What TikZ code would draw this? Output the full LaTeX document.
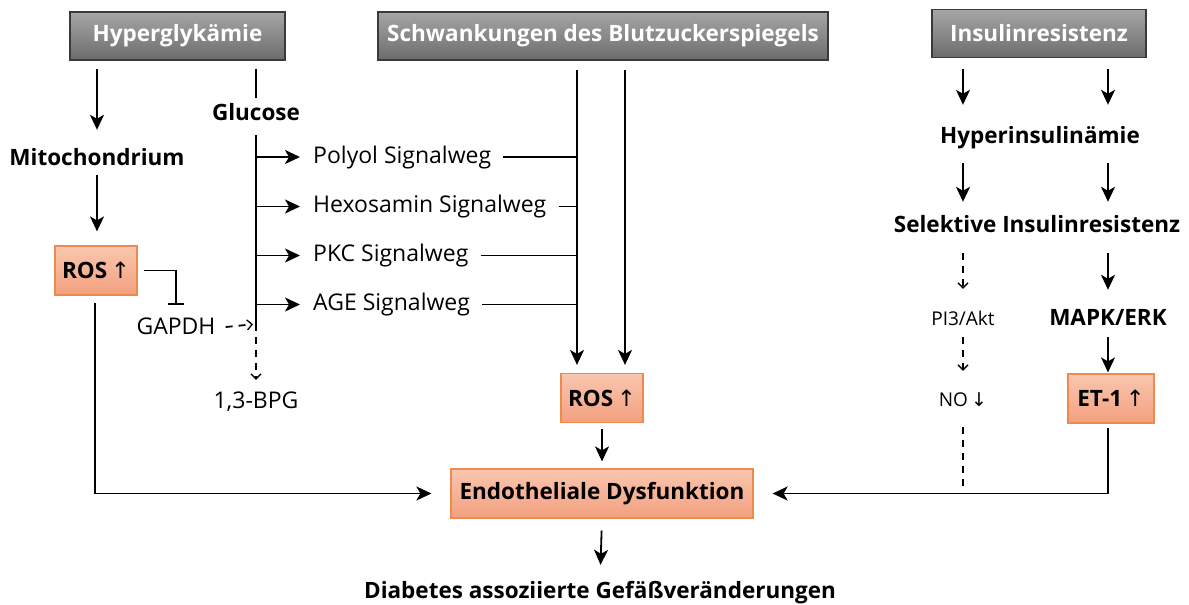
\documentclass[tikz,border=0pt]{standalone}
\usepackage{fontspec}
\setmainfont{Open Sans}
\newfontfamily\arrowfont{DejaVu Sans}
\usetikzlibrary{arrows.meta}
\definecolor{hdtop}{HTML}{A6A6A6}
\definecolor{hdbot}{HTML}{6C6C6C}
\definecolor{hdborder}{HTML}{3A3A3A}
\definecolor{rostop}{HTML}{F9C6AF}
\definecolor{rosbot}{HTML}{F3A07F}
\definecolor{rosborder}{HTML}{EE8A4E}
\newcommand{\up}{{\arrowfont\mdseries\,↑}}
\newcommand{\down}{{\arrowfont\mdseries\,↓}}
\begin{document}
\begin{tikzpicture}[x=1pt,y=-1pt,
  headbox/.style={draw=hdborder, line width=1.4, top color=hdtop, bottom color=hdbot,
    text=white, font=\bfseries\fontsize{22.5}{27}\selectfont, minimum height=48, inner sep=0},
  rosbox/.style={draw=rosborder, line width=1.2, top color=rostop, bottom color=rosbot,
    font=\bfseries\fontsize{22.5}{27}\selectfont, minimum height=49, inner sep=0},
  lab/.style={font=\bfseries\fontsize{22.5}{27}\selectfont, inner sep=0, text height=17, text depth=5},
  txt/.style={font=\fontsize{23}{27}\selectfont, inner sep=0, text height=17, text depth=5},
  small/.style={font=\fontsize{19}{23}\selectfont, inner sep=0, text height=14, text depth=4},
  line/.style={line width=1.8},
  arr/.style={line width=1.8, -{Stealth[length=15,width=14,inset=4]}},
  dline/.style={line width=1.8, dash pattern=on 7 off 6},
  darr/.style={line width=1.8, dash pattern=on 7 off 6, -{Straight Barb[length=5,width=10,line width=1.3]}},
  inhib/.style={line width=1.8, -{Bar[width=16,line width=1.8]}}
]
\useasboundingbox (0,0) rectangle (1189,605);

% header boxes
\node[headbox, minimum width=215] (hyper) at (177.5,36) {Hyperglykämie};
\node[headbox, minimum width=450] (schw) at (603,36) {Schwankungen des Blutzuckerspiegels};
\node[headbox, minimum width=214] (insul) at (1039,33.5) {Insulinresistenz};

% left column: hyperglycaemia
\node[lab] (mito) at (97,159) {Mitochondrium};
\node[rosbox, minimum width=82] (ros1) at (96,270.5) {ROS\up};
\node[lab] (glucose) at (256,114) {Glucose};
\node[txt] (gapdh) at (176,328) {GAPDH};
\node[txt] (bpg) at (256,402) {1,3-BPG};
\coordinate (gj) at (256,324);

\node[txt, anchor=west] (polyol) at (313,157) {Polyol Signalweg};
\node[txt, anchor=west] (hexo) at (313,206.5) {Hexosamin Signalweg};
\node[txt, anchor=west] (pkc) at (313,255.5) {PKC Signalweg};
\node[txt, anchor=west] (age) at (313,304.5) {AGE Signalweg};

% centre column
\coordinate (v1) at (577,70);
\coordinate (v2) at (625,70);
\node[rosbox, minimum width=82] (ros2) at (602,398) {ROS\up};
\node[rosbox, minimum width=302] (endo) at (602,493.5) {Endotheliale Dysfunktion};
\node[lab] (diab) at (600,592) {Diabetes assoziierte Gefäßveränderungen};

% right column: insulin resistance
\node[lab] (hyperins) at (1040,137) {Hyperinsulinämie};
\node[lab] (selekt) at (1037,226.5) {Selektive Insulinresistenz};
\node[small] (pi3) at (963,320) {PI3/Akt};
\node[small] (no) at (963,401) {NO\down};
\node[lab] (mapk) at (1108,319.5) {MAPK/ERK};
\node[rosbox, minimum width=86] (et1) at (1111,398.5) {ET-1\up};

% connectors, left
\draw[arr, shorten <=8, shorten >=18] (hyper.south -| mito) -- (mito.north);
\draw[arr, shorten <=5, shorten >=14] (mito.south) -- (mito.south |- ros1.north);
\draw[line, shorten <=8, shorten >=5] (hyper.south -| glucose) -- (glucose.north);
\draw[line, shorten <=10] (glucose.south) -- (gj);
\draw[darr, shorten >=11] (gj) -- (bpg.north);
\draw[darr, shorten <=10, shorten >=3] (gapdh.east) -- (gj);
\draw[inhib, shorten <=6, shorten >=12] (ros1.east) -| (gapdh.north);
\foreach \p in {polyol,hexo,pkc,age}{
  \draw[arr, shorten >=13] (glucose |- \p) -- (\p.west);
  \draw[line, shorten <=12] (\p.east) -- (\p -| v1);
}

% connectors, centre
\draw[arr, shorten >=8] (v1) -- (v1 |- ros2.north);
\draw[arr, shorten >=8] (v2) -- (v2 |- ros2.north);
\draw[arr, shorten <=6, shorten >=7] (ros2.south) -- (endo.north);
\draw[arr, shorten <=12, shorten >=16] (endo.south) -- (diab.north);
\draw[arr, shorten <=7, shorten >=19] (ros1.south -| 95,0) |- (endo.west);

% connectors, right
\draw[arr, shorten <=10.5, shorten >=21] (insul.south -| pi3) -- (hyperins.north -| pi3);
\draw[arr, shorten <=10.5, shorten >=21] (insul.south -| mapk) -- (hyperins.north -| mapk);
\draw[arr, shorten <=15, shorten >=13.5] (hyperins.south -| pi3) -- (selekt.north -| pi3);
\draw[arr, shorten <=15, shorten >=13.5] (hyperins.south -| mapk) -- (selekt.north -| mapk);
\draw[darr, shorten <=15.5, shorten >=22] (selekt.south -| pi3) -- (pi3.north);
\draw[arr, shorten <=15.5, shorten >=18.5] (selekt.south -| mapk) -- (mapk.north);
\draw[darr, shorten <=8, shorten >=21] (pi3.south) -- (no.north);
\draw[arr, shorten <=6.5, shorten >=1] (mapk.south) -- (mapk.south |- et1.north);
\draw[dline, shorten <=17, shorten >=4] (no.south) -- (no |- endo.east);
\draw[arr, shorten <=4, shorten >=19] (mapk |- et1.south) |- (endo.east);
\end{tikzpicture}
\end{document}
